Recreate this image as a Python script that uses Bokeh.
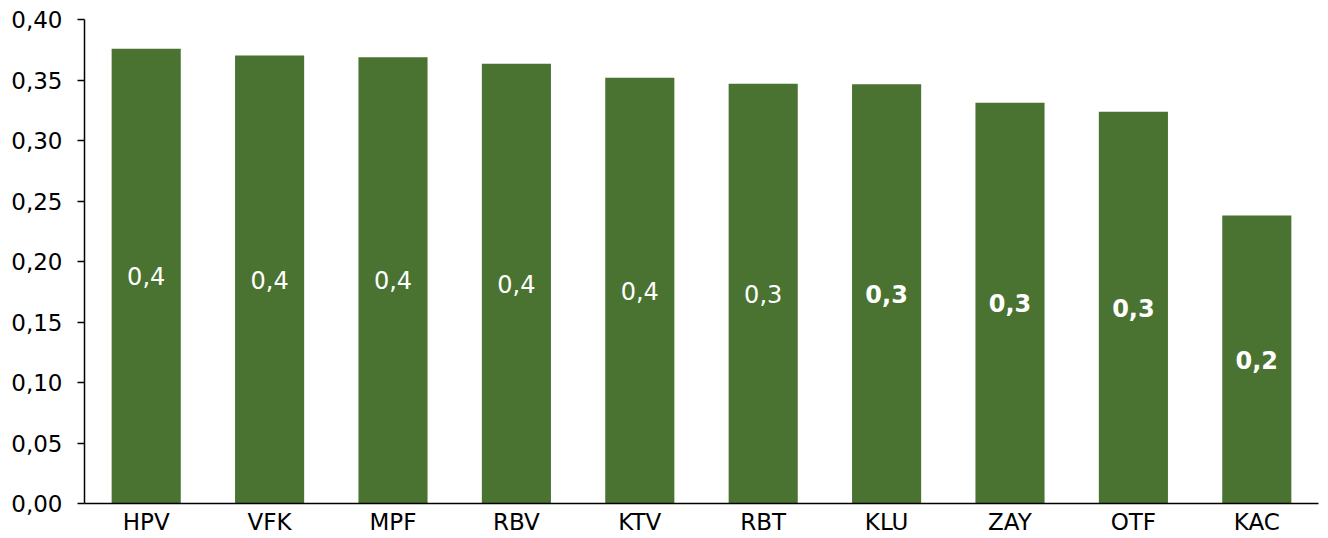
from bokeh.plotting import figure
from bokeh.models import ColumnDataSource, Range1d, FactorRange, CustomJSTickFormatter, FixedTicker
from bokeh.core.properties import value
from bokeh.embed import file_html
from bokeh.resources import INLINE

categories = ["HPV", "VFK", "MPF", "RBV", "KTV", "RBT", "KLU", "ZAY", "OTF", "KAC"]
values = [0.3758, 0.3702, 0.3689, 0.3634, 0.3518, 0.3468, 0.3465, 0.3311, 0.3237, 0.2380]
label_weights = ["normal", "normal", "normal", "normal", "normal", "normal", "bold", "bold", "bold", "bold"]
y_ticks = [0.0, 0.05, 0.10, 0.15, 0.20, 0.25, 0.30, 0.35, 0.40]

FONT = "DejaVu Sans"
GREEN = "#4A7231"

labels = [f"{v:.1f}".replace(".", ",") for v in values]
mids = [v / 2 for v in values]
src = ColumnDataSource(dict(cat=categories, val=values, mid=mids, lab=labels, wt=label_weights))

p = figure(x_range=FactorRange(*categories, range_padding=0), y_range=Range1d(0, 0.40),
           width=1328, height=538, output_backend="svg", toolbar_location=None,
           min_border_left=84, min_border_top=19, min_border_right=10, min_border_bottom=35)
p.vbar(x="cat", top="val", width=0.56, source=src, fill_color=GREEN, line_color=None)
p.text(x="cat", y="mid", text="lab", source=src, text_color="white", text_align="center",
       text_baseline="middle", text_font=value(FONT), text_font_size="24px", text_font_style="wt")

p.outline_line_color = None
p.grid.visible = False
p.background_fill_color = "white"

p.yaxis.ticker = FixedTicker(ticks=y_ticks)
p.yaxis.formatter = CustomJSTickFormatter(code="return tick.toFixed(2).replace('.', ',');")
p.yaxis.major_label_text_font = FONT
p.yaxis.major_label_text_font_size = "23px"
p.yaxis.major_label_text_color = "black"
p.yaxis.major_tick_out = 7
p.yaxis.major_tick_in = 0
p.yaxis.major_label_standoff = 15
p.yaxis.minor_tick_line_color = None
p.yaxis.axis_line_color = "black"
p.yaxis.major_tick_line_color = "black"
p.yaxis.axis_line_width = 1.5
p.yaxis.major_tick_line_width = 1.5

p.xaxis.major_label_text_font = FONT
p.xaxis.major_label_text_font_size = "23px"
p.xaxis.major_label_text_color = "black"
p.xaxis.major_tick_line_color = None
p.xaxis.major_tick_out = 0
p.xaxis.major_tick_in = 0
p.xaxis.minor_tick_line_color = None
p.xaxis.axis_line_color = "black"
p.xaxis.axis_line_width = 1.5
p.xaxis.major_label_standoff = 5

open("out.html", "w").write(file_html(p, INLINE))
